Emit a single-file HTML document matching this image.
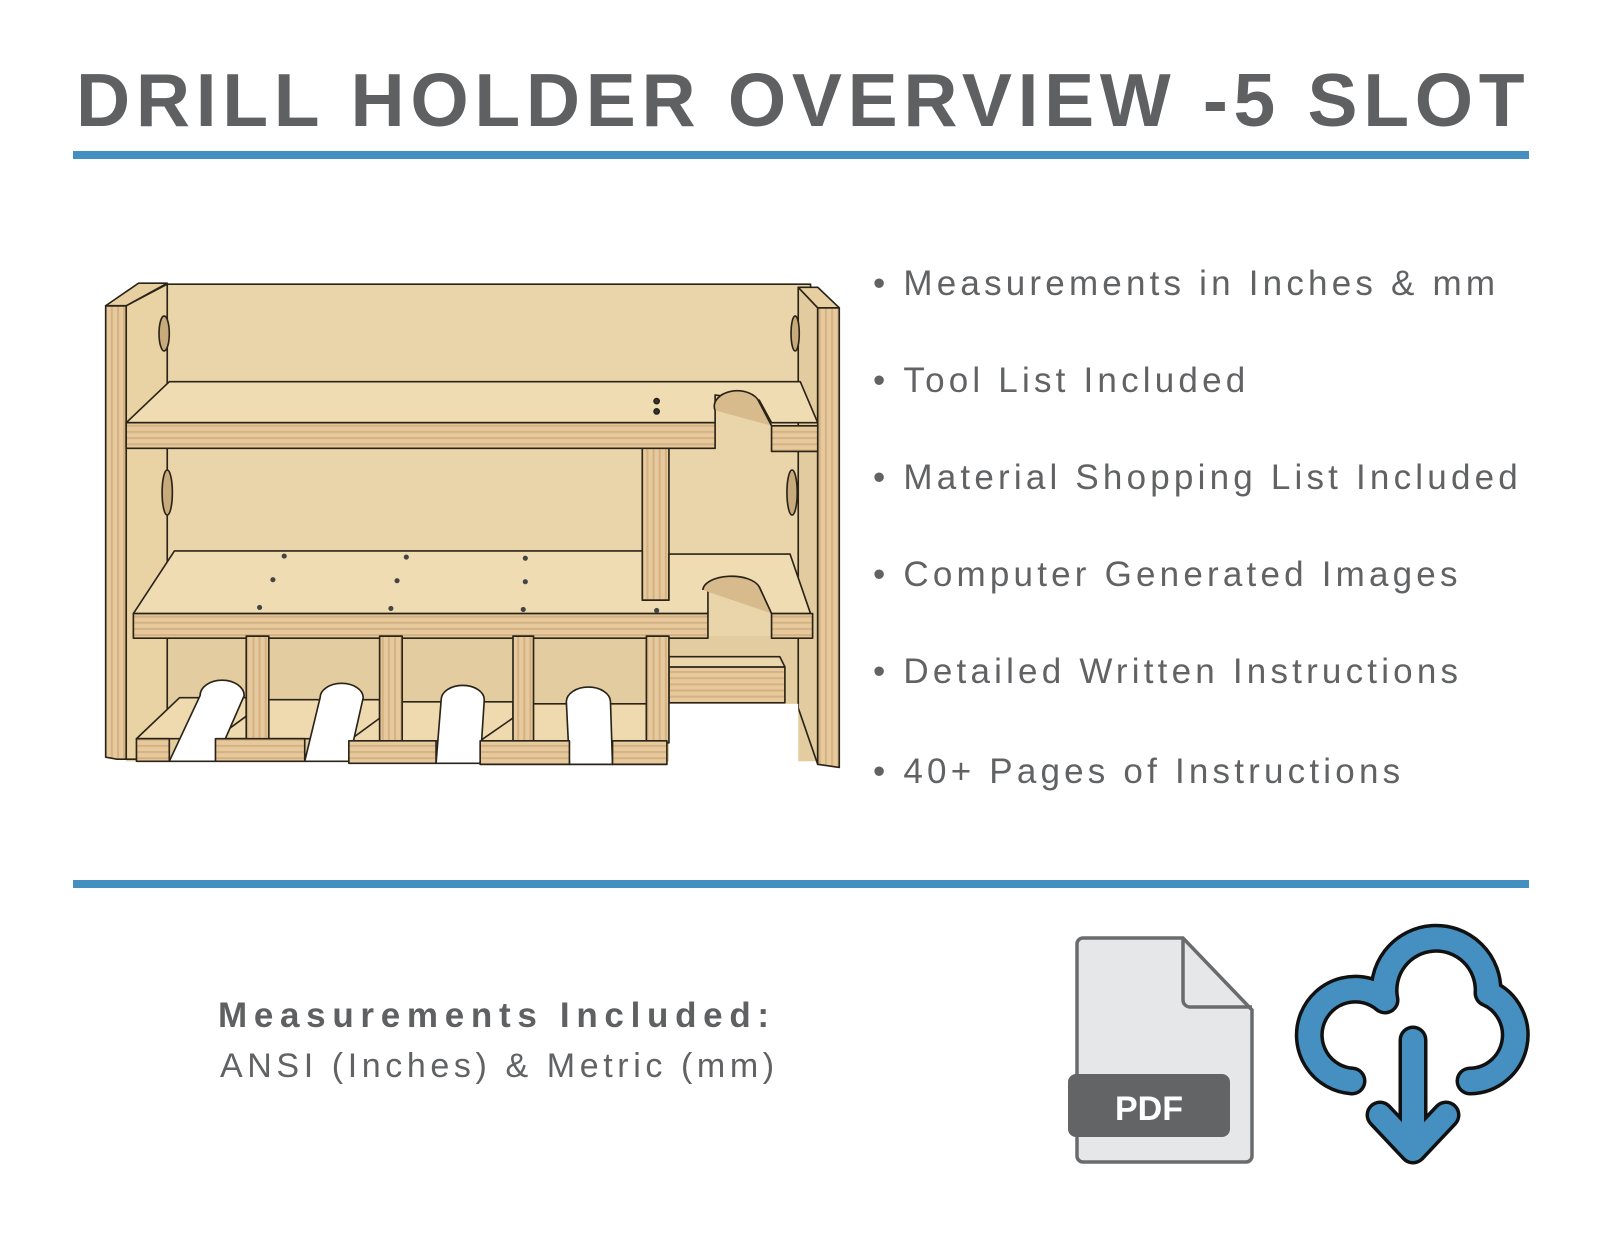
<!DOCTYPE html>
<html><head><meta charset="utf-8"><style>
html,body{margin:0;padding:0;background:#fff;}
body{width:1600px;height:1236px;position:relative;overflow:hidden;font-family:"Liberation Sans",Arial,sans-serif;color:#5f6062;}
.t{position:absolute;white-space:nowrap;}
.title{left:76px;top:57px;font-size:75px;font-weight:bold;letter-spacing:5.7px;line-height:86px;color:#5f6062;}
.line{position:absolute;left:73px;width:1456px;height:8px;background:#4390c0;}
.b{font-size:35px;letter-spacing:4.2px;left:873px;line-height:40px;color:#616264;}
</style></head><body>
<div class="t title">DRILL HOLDER OVERVIEW -5 SLOT</div>
<div class="line" style="top:151px"></div>
<div class="line" style="top:880px"></div>

<div class="t b" style="top:264px">•&nbsp;Measurements in Inches &amp; mm</div>
<div class="t b" style="top:361px">•&nbsp;Tool List Included</div>
<div class="t b" style="top:458px">•&nbsp;Material Shopping List Included</div>
<div class="t b" style="top:555px">•&nbsp;Computer Generated Images</div>
<div class="t b" style="top:652px">•&nbsp;Detailed Written Instructions</div>
<div class="t b" style="top:752px">•&nbsp;40+ Pages of Instructions</div>

<div class="t" style="left:218px;top:996px;font-size:35px;font-weight:bold;letter-spacing:6.7px;color:#5f6062;">Measurements Included:</div>
<div class="t" style="left:220px;top:1047px;font-size:34px;letter-spacing:4.6px;color:#616264;">ANSI (Inches) &amp; Metric (mm)</div>

<svg width="1600" height="1236" style="position:absolute;left:0;top:0" xmlns="http://www.w3.org/2000/svg">
<path d="M1083,938 H1183 L1252,1010 V1156 a6,6 0 0 1 -6,6 H1083 a6,6 0 0 1 -6,-6 V944 a6,6 0 0 1 6,-6 Z" fill="#e6e7e9" stroke="#6a6b6d" stroke-width="3.5"/>
<path d="M1183,938 V1000 a7,7 0 0 0 7,7 H1252" fill="none" stroke="#6a6b6d" stroke-width="3.5"/>
<rect x="1068" y="1074" width="162" height="63" rx="8" fill="#636466"/>
<text x="1149" y="1120" text-anchor="middle" font-family="Liberation Sans, Arial, sans-serif" font-weight="bold" font-size="34" fill="#fff">PDF</text>
<g fill="none" stroke-linecap="round" stroke-linejoin="round">
<path d="M1352,1081 A46,46 0 1 1 1385,1000 A52,52 0 1 1 1488,993 A46,46 0 0 1 1470,1081" stroke="#111" stroke-width="29"/>
<path d="M1413,1040 V1148 M1380,1115 L1413,1150 L1446,1115" stroke="#111" stroke-width="29"/>
<path d="M1352,1081 A46,46 0 1 1 1385,1000 A52,52 0 1 1 1488,993 A46,46 0 0 1 1470,1081" stroke="#4590c0" stroke-width="22"/>
<path d="M1413,1040 V1148 M1380,1115 L1413,1150 L1446,1115" stroke="#4590c0" stroke-width="22"/>
</g>

<defs>
<pattern id="ply" width="6" height="6" patternUnits="userSpaceOnUse">
<rect width="6" height="6" fill="#e6c99c"/><rect y="0" width="6" height="2" fill="#d5b283"/>
</pattern>
<pattern id="plyv" width="6" height="6" patternUnits="userSpaceOnUse">
<rect width="6" height="6" fill="#e6c99c"/><rect x="0" width="2" height="6" fill="#d5b283"/>
</pattern>
</defs>
<g transform="scale(1.026)" stroke="#2a2418" stroke-width="1.6" stroke-linejoin="round">
<rect x="150" y="277" width="640" height="385" fill="#ead5ab"/>
<rect x="123" y="620" width="675" height="122" fill="#e3cc9f" stroke="none"/>
<polygon points="123,298 163,277 163,740 123,740" fill="#e9d2a4"/>
<ellipse cx="160" cy="325" rx="5" ry="17" fill="#c8ab7c"/>
<ellipse cx="163" cy="480" rx="5" ry="22" fill="#c8ab7c"/>
<polygon points="778,280 797,300 797,745 778,690" fill="#e3cba0"/>
<ellipse cx="775" cy="325" rx="4" ry="17" fill="#c8ab7c"/>
<ellipse cx="772" cy="480" rx="5" ry="22" fill="#c8ab7c"/>
<polygon points="103,298 123,298 123,740 114,740 103,738" fill="url(#plyv)"/>
<polygon points="103,298 135,276 163,276 123,298" fill="#e8cfa2"/>
<polygon points="797,300 818,300 818,748 797,745" fill="url(#plyv)"/>
<polygon points="778,280 797,280 818,300 797,300" fill="#e8cfa2"/>
<polygon points="165,372 780,372 797,412 752,412 740,390 697,385 697,412 123,412" fill="#f0dcb2"/>
<path d="M697,400 A22,15 0 0 1 740,392 L752,415" fill="#d8bb8c"/>
<rect x="123" y="412" width="574" height="25" fill="url(#ply)"/>
<rect x="752" y="415" width="45" height="25" fill="url(#ply)"/>
<circle cx="640" cy="391" r="2.5" fill="#333"/><circle cx="640" cy="401" r="2.5" fill="#333"/>
<rect x="626" y="437" width="26" height="148" fill="url(#plyv)"/>
<polygon points="170,537 626,537 626,585 652,585 652,540 770,540 790,598 752,598 740,572 690,572 690,598 130,598" fill="#f0dcb2"/>
<path d="M685,575 A28,14 0 0 1 740,572 L752,598" fill="#d8bb8c"/>
<rect x="130" y="598" width="560" height="24" fill="url(#ply)"/>
<rect x="752" y="598" width="40" height="24" fill="url(#ply)"/>
<g fill="#444" stroke="none">
<circle cx="277" cy="542" r="2.5"/><circle cx="396" cy="543" r="2.5"/><circle cx="512" cy="544" r="2.5"/>
<circle cx="266" cy="565" r="2.5"/><circle cx="387" cy="566" r="2.5"/><circle cx="512" cy="567" r="2.5"/>
<circle cx="253" cy="592" r="2.5"/><circle cx="381" cy="593" r="2.5"/><circle cx="510" cy="594" r="2.5"/><circle cx="640" cy="595" r="2.5"/>
</g>
<polygon points="652,650 765,650 765,685 652,685" fill="url(#ply)"/>
<polygon points="652,640 760,640 765,650 652,650" fill="#ecd6ab"/>
<polygon points="175,680 240,680 240,720 133,720" fill="#efdab0"/>
<polygon points="262,682 370,682 370,720 210,720" fill="#efdab0"/>
<polygon points="392,684 500,684 500,722 340,722" fill="#efdab0"/>
<polygon points="520,686 630,686 630,722 468,722" fill="#efdab0"/>
<path d="M165,742 L195,678 A20,14 0 0 1 238,678 L210,742 Z" fill="#fff"/>
<path d="M297,742 L312,680 A21,14 0 0 1 354,680 L340,742 Z" fill="#fff"/>
<path d="M425,744 L430,682 A21,14 0 0 1 472,682 L468,744 Z" fill="#fff"/>
<path d="M555,745 L552,684 A21,14 0 0 1 595,684 L597,745 Z" fill="#fff"/>
<rect x="652" y="686" width="126" height="60" fill="#fff" stroke="none"/>
<rect x="240" y="620" width="22" height="102" fill="url(#plyv)"/>
<rect x="370" y="620" width="22" height="102" fill="url(#plyv)"/>
<rect x="500" y="620" width="20" height="102" fill="url(#plyv)"/>
<rect x="630" y="620" width="22" height="104" fill="url(#plyv)"/>
<rect x="133" y="720" width="32" height="22" fill="url(#ply)"/>
<rect x="210" y="720" width="87" height="22" fill="url(#ply)"/>
<rect x="340" y="722" width="85" height="22" fill="url(#ply)"/>
<rect x="468" y="722" width="87" height="23" fill="url(#ply)"/>
<rect x="597" y="722" width="53" height="23" fill="url(#ply)"/>
</g>
</svg>
</body></html>
